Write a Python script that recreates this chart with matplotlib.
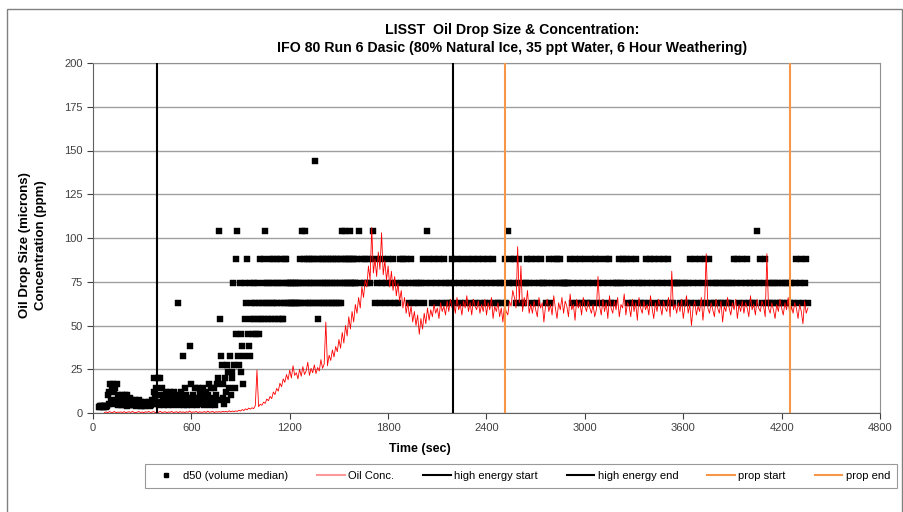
import numpy as np
import matplotlib.pyplot as plt
from matplotlib.lines import Line2D
from matplotlib.patches import Rectangle

plt.rcParams['font.family'] = ['Liberation Sans', 'DejaVu Sans']

# LISST size bins (microns); d50 values are coded by bin, one char per sample
D50_BINS = [3.2, 3.78, 4.46, 5.27, 6.21, 7.33, 8.65, 10.2, 12.1, 14.2, 16.8, 19.8,
            23.4, 27.6, 32.5, 38.4, 45.3, 53.5, 63.1, 74.5, 87.9, 104.0, 122.0, 144.0]
BIN_CODES = "0123456789ABCDEFGHIJKLMN"

# d50, 5 s samples from 35 s to 1595 s
D50_EARLY_START, D50_EARLY_STEP = 35, 5
d50_early = (
    "0101101010" "1738A59A38" "95A2746273" "6273715264" "5242531425"
    "3141324132" "24132538B6" "94B27B3952" "7385264837" "5284637I25"
    "836E294725" "3F6A274936" "2958374926" "3857A42936" "4927A5BLHE"
    "D6A3B8D5C9" "E7CBJD9GKL" "EDJGCFAEJH" "IKGFJEHIGJ" "HIGJHIGKHI"
    "JKHLIJHIJK" "HIJKIHJKIH" "JKIHJHIKJK" "IJIJIJIJIJ" "IJIJIJKILJ"
    "KILJKIJKIJ" "KIJKNIJHKI" "JKIJKIJKIJ" "KIJKIJKIJK" "IJKIJKILJK"
    "LJKJKJLKJK" "JKJ"
)
# d50, 10 s samples from 1600 s to 4360 s
D50_LATE_START, D50_LATE_STEP = 1600, 10
d50_late = (
    "JKLJKJKJKJ" "KLIJKIJKIJ" "KIJKIJIKJK" "JKJIKJIJIJ" "JKIJLKJIKJ"
    "IKJIKJIJIK" "JIKJIKJIJK" "IJKIJKIJKI" "JKIJKIJIJI" "JKILJKJKIJ"
    "KIJIJKJKIJ" "KIJKJJIJKI" "JKJKJKJJJJ" "JKIJKIJKIJ" "KIJIKJKIJK"
    "IJIKJKIJIJ" "JKJKJKIJKI" "JKIJIJIKJI" "KJKIJKIJKI" "JKIJIJJJIJ"
    "IJIJKIJKIJ" "KIJKIJKIJI" "JIJIJIJIJI" "JKJKIJKIJK" "IJIJILJKIJ"
    "KIJIJIJIJI" "JIJIJIJIJK" "IJKIJKI"
)

# Oil concentration (ppm), 10 s samples from 70 s
OIL_START, OIL_STEP = 70, 10
oil_conc = [
    0.3, 0.6, 0.2, 0.8, 0.4, 0.3, 0.9, 0.2, 0.5, 0.4,
    0.6, 0.3, 0.8, 0.2, 0.5, 0.7, 0.3, 0.9, 0.4, 0.2,
    0.5, 0.8, 0.3, 0.6, 0.2, 0.7, 0.4, 0.9, 0.3, 0.5,
    0.8, 0.2, 0.6, 0.4, 1.0, 0.3, 0.5, 0.7, 0.2, 0.6,
    0.4, 0.9, 0.3, 0.5, 0.7, 0.2, 0.8, 0.4, 0.6, 0.3,
    0.7, 0.4, 1.2, 0.3, 0.6, 0.5, 0.9, 0.2, 0.7, 0.4,
    0.5, 0.8, 0.3, 1.1, 0.4, 0.6, 0.9, 0.3, 0.7, 0.5,
    0.8, 0.4, 1.0, 0.6, 0.9, 0.5, 1.3, 0.7, 1.1, 0.8,
    1.2, 0.9, 1.6, 1.1, 2.0, 1.4, 2.4, 1.8, 2.8, 2.2,
    3.0, 2.5, 4.2, 24.5, 3.6, 5.0, 4.4, 6.2, 5.5, 8.0,
    7.0, 9.5, 8.2, 12.0, 10.5, 14.0, 12.5, 17.0, 15.0, 19.5,
    17.5, 22.0, 19.0, 24.5, 20.0, 27.0, 21.5, 23.0, 19.5, 25.0,
    21.0, 26.5, 22.0, 24.0, 29.0, 21.5, 25.5, 23.0, 27.5, 22.5,
    26, 24, 30.5, 25.5, 28, 52, 27, 33, 30, 36,
    32, 38, 35, 42, 37, 46, 40, 50, 44, 55,
    48, 58, 52, 62, 57, 66, 60, 72, 66, 76,
    72, 84, 76, 106, 80, 88, 78, 92, 82, 103,
    79, 87, 76, 84, 72, 81, 70, 78, 67, 74,
    64, 70, 60, 66, 57, 63, 55, 61, 52, 58,
    50, 56, 45, 54, 48, 57, 51, 60, 53, 59,
    55, 62, 57, 60, 54, 63, 58, 61, 56, 64,
    58, 65, 60, 63, 57, 66, 59, 62, 56, 64,
    60, 67, 58, 63, 56, 65, 61, 59, 64, 57,
    62, 58, 65, 56, 63, 59, 66, 54, 61, 58,
    63, 55, 60, 52, 62, 58, 56, 64, 61, 70,
    66, 60, 95, 63, 84, 58, 66, 61, 70, 57,
    62, 57, 64, 59, 55, 66, 60, 63, 52, 61,
    65, 58, 62, 56, 67, 60, 54, 63, 59, 66,
    57, 64, 61, 55, 68, 59, 62, 53, 65, 60,
    63, 56, 66, 61, 58, 64, 60, 57, 62, 55,
    59, 78, 61, 56, 65, 58, 63, 54, 67, 60,
    57, 64, 59, 66, 55, 62, 60, 68, 56, 63,
    61, 55, 65, 58, 63, 53, 66, 60, 57, 64,
    59, 62, 56, 67, 60, 54, 63, 58, 65, 61,
    56, 64, 60, 58, 66, 55, 81, 59, 62, 57,
    63, 58, 65, 54, 61, 67, 57, 62, 50, 60,
    64, 56, 61, 58, 66, 53, 62, 91, 60, 57,
    63, 59, 55, 65, 60, 57, 64, 52, 61, 58,
    66, 60, 56, 63, 59, 65, 54, 62, 58, 64,
    57, 63, 60, 55, 67, 59, 62, 56, 65, 60,
    58, 64, 61, 55, 91, 60, 57, 63, 59, 54,
    62, 58, 65, 60, 56, 63, 59, 66, 55, 61,
    57, 63, 60, 54, 62, 58, 51, 64, 57, 60,
]

# event markers (sec)
high_energy_start = 390
high_energy_end = 2195
prop_start = 2510
prop_end = 4250

x_ticks = list(range(0, 4801, 600))
y_ticks = list(range(0, 201, 25))


def decode(codes, start, step):
    t = start + step * np.arange(len(codes))
    v = np.array([D50_BINS[BIN_CODES.index(c)] for c in codes])
    return t, v


t1, v1 = decode(d50_early, D50_EARLY_START, D50_EARLY_STEP)
t2, v2 = decode(d50_late, D50_LATE_START, D50_LATE_STEP)
d50_t = np.concatenate([t1, t2])
d50_v = np.concatenate([v1, v2])
oil_t = OIL_START + OIL_STEP * np.arange(len(oil_conc))

fig = plt.figure(figsize=(9.04, 5.12), dpi=100)
ax = fig.add_axes([93 / 904, 1 - 413 / 512, 787 / 904, 350 / 512])

ax.plot(d50_t, d50_v, linestyle='none', marker='s', markersize=3.7,
        color='black', markeredgewidth=0.3, zorder=3)
ax.plot(oil_t, oil_conc, color='red', linewidth=0.6, zorder=4)
ax.axvline(high_energy_start, color='black', linewidth=1.5, zorder=5)
ax.axvline(high_energy_end, color='black', linewidth=1.5, zorder=5)
ax.axvline(prop_start, color='#F79646', linewidth=1.5, zorder=5)
ax.axvline(prop_end, color='#F79646', linewidth=1.5, zorder=5)

ax.set_xlim(0, 4800)
ax.set_ylim(0, 200)
ax.set_xticks(x_ticks)
ax.set_yticks(y_ticks)
ax.tick_params(labelsize=8, colors='#404040', length=4, width=0.8)
ax.yaxis.grid(True, color='#a0a0a0', linewidth=1)
ax.set_axisbelow(True)
for s in ax.spines.values():
    s.set_color('#909090')
ax.spines['left'].set_color('#606060')
ax.spines['bottom'].set_color('#606060')

fig.text(512 / 904, 1 - 39 / 512,
         "LISST  Oil Drop Size & Concentration:\n"
         "IFO 80 Run 6 Dasic (80% Natural Ice, 35 ppt Water, 6 Hour Weathering)",
         ha='center', va='center', fontsize=10.2, fontweight='bold', linespacing=1.35)
fig.text(33 / 904, 1 - 245 / 512, "Oil Drop Size (microns)\nConcentration (ppm)",
         rotation=90, ha='center', va='center', fontsize=9.5, fontweight='bold',
         linespacing=1.4)
fig.text(420 / 904, 1 - 449 / 512, "Time (sec)", ha='center', va='center',
         fontsize=9, fontweight='bold')

handles = [
    Line2D([], [], linestyle='none', marker='s', markersize=3, color='black'),
    Line2D([], [], color='#ff9999', linewidth=1.5),
    Line2D([], [], color='black', linewidth=1.5),
    Line2D([], [], color='black', linewidth=1.5),
    Line2D([], [], color='#F79646', linewidth=1.5),
    Line2D([], [], color='#F79646', linewidth=1.5),
]
labels = ["d50 (volume median)", "Oil Conc.", "high energy start",
          "high energy end", "prop start", "prop end"]
leg = fig.legend(handles, labels, ncol=6, loc='center',
                 bbox_to_anchor=(521 / 904, 1 - 476 / 512), fontsize=8,
                 frameon=True, fancybox=False, edgecolor='#808080',
                 handlelength=2.5, handletextpad=0.3, columnspacing=2.6,
                 borderpad=0.6)
leg.get_frame().set_linewidth(0.8)

# outer chart border
fig.patches.append(Rectangle((7 / 904, -0.05), 895 / 904, 1.05 - 9 / 512,
                             transform=fig.transFigure, fill=False,
                             edgecolor='#808080', linewidth=1))

fig.savefig('out.png', dpi=100)
